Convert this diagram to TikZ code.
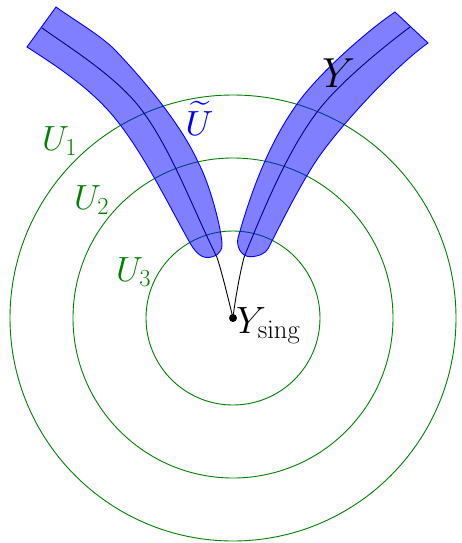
\RequirePackage{fix-cm}
\documentclass[tikz,border=0pt]{standalone}
\definecolor{ugreen}{RGB}{0,128,0}
\tikzset{
  circ/.style={ugreen, line width=0.9pt},
  band/.style={draw=blue, fill=blue, fill opacity=0.5, line width=0.9pt},
  core/.style={black, line width=0.9pt},
  glab/.style={text=ugreen, inner sep=0pt, anchor=base west, font=\fontsize{35}{40}\selectfont},
  dot/.style={circle, fill=black, inner sep=0pt, minimum size=8pt},
}
\begin{document}
\begin{tikzpicture}[x=1pt,y=-1pt]
\useasboundingbox (0,0) rectangle (462,543);
\node[dot] (s) at (233,318) {};
% circles U1, U2, U3
\draw[circ] (s.center) circle[radius=223];
\draw[circ] (s.center) circle[radius=160];
\draw[circ] (s.center) circle[radius=87];
% cores of the two branches of Y
\coordinate (lt) at (42,28);
\coordinate (rt) at (410,27);
\draw[core] (lt) .. controls (74.8,51) and (117.7,78) .. (141.7,110)
  .. controls (171.7,150) and (194.3,212) .. (216.7,256.7)
  .. controls (220.9,268) and (229.4,303.4) .. (s.center);
\draw[core] (rt) .. controls (382,48) and (341.9,81) .. (320,108.3)
  .. controls (288.8,147.3) and (263.5,209.8) .. (244.5,256)
  .. controls (240.9,267.4) and (234.5,303) .. (s.center);
% left band
\filldraw[band] (27,47) .. controls (60.6,68.6) and (93.4,90.4) .. (118,122)
  .. controls (145.7,157.5) and (168,203.8) .. (190,243)
  .. controls (193.9,250) and (200,257.5) .. (207,257.5)
  .. controls (215,257.5) and (222,253) .. (222,245)
  .. controls (222,231) and (210,184) .. (198,162)
  .. controls (181.6,125.6) and (146,82.4) .. (115,50)
  .. controls (101,35.6) and (72.2,18.7) .. (56,7) -- cycle;
% right band
\filldraw[band] (395,12) .. controls (366,31.6) and (321,72) .. (300,100)
  .. controls (270,140) and (251.5,190) .. (238,238)
  .. controls (236,246) and (241,256.7) .. (250,256.7)
  .. controls (258,256.7) and (265.6,253.6) .. (268.3,248.3)
  .. controls (281.8,221.6) and (300.2,184.9) .. (316.7,160)
  .. controls (336,131) and (391.5,69.1) .. (428,43) -- cycle;
% labels
\node[glab] (u1) at (42,150) {$U_1$};
\node[glab] (u2) at (74,209.5) {$U_2$};
\node[glab] (u3) at (116,281) {$U_3$};
\node[text=blue, inner sep=0pt, anchor=base west, font=\normalsize, scale=3.5, transform shape] (ut) at (185,135) {$\widetilde{U}$};
\node[inner sep=0pt, anchor=base west, font=\fontsize{42}{48}\selectfont] (y) at (322,87) {$Y$};
\node[inner sep=0pt, anchor=base west, font=\fontsize{38}{44}\selectfont] (ys) at (236,333) {$Y_{\mathrm{sing}}$};
\end{tikzpicture}
\end{document}
